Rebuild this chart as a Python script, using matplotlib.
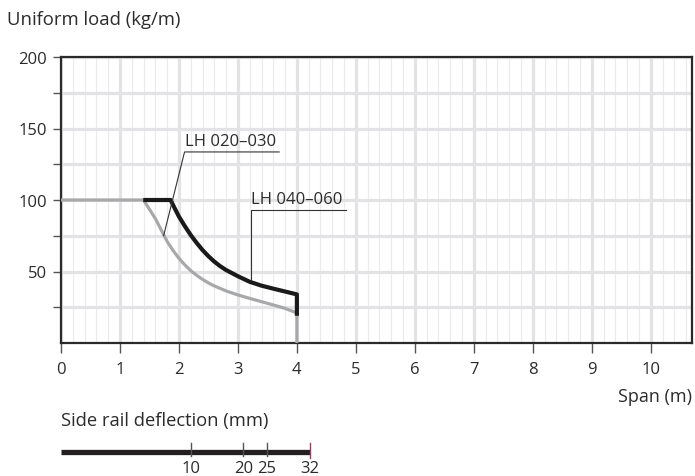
import matplotlib
matplotlib.use("Agg")
import matplotlib.pyplot as plt
from matplotlib.ticker import FixedLocator, MultipleLocator

plt.rcParams['font.family'] = ['Open Sans', 'DejaVu Sans']

# LH 020-030 (grey curve)
span_grey = [0, 1.40, 1.50, 1.60, 1.70, 1.80, 1.90, 2.00, 2.10, 2.20, 2.30, 2.40, 2.50, 2.60,
             2.80, 3.00, 3.20, 3.40, 3.60, 3.80, 4.00, 4.00]
load_grey = [100, 100, 93.5, 87, 79, 71, 64.7, 59.2, 54.6, 50.6, 47.3, 44.5, 42, 39.9,
             36.4, 33.6, 31.2, 28.9, 26.6, 24.2, 21, 0]

# LH 040-060 (black curve)
span_black = [1.43, 1.86, 1.90, 2.00, 2.10, 2.20, 2.30, 2.40, 2.50, 2.60, 2.70, 2.80,
              3.00, 3.20, 3.40, 3.60, 3.80, 4.00, 4.00]
load_black = [100, 100, 96.5, 88.4, 81.7, 75.5, 70, 65, 60.7, 56.9, 53.7, 51,
              46.7, 42.8, 40.1, 38, 36, 34, 20.5]

x_ticks = [0, 1, 2, 3, 4, 5, 6, 7, 8, 9, 10]
y_ticks = [25, 50, 75, 100, 125, 150, 175, 200]
y_labels = [50, 100, 150, 200]

# side rail deflection scale (mm) and where it sits on the span axis
defl_mm = [10, 20, 25, 32]
defl_span = [2.20, 3.09, 3.49, 4.22]

txt = '#2b2b2b'
fig = plt.figure(figsize=(6.95, 4.77), dpi=100)
ax = fig.add_axes([61 / 695, 1 - 344 / 477, 631 / 695, 286 / 477])

ax.set_xlim(0, 10.7)
ax.set_ylim(0, 200)

# grid
ax.xaxis.set_major_locator(FixedLocator(x_ticks))
ax.xaxis.set_minor_locator(MultipleLocator(0.2))
ax.yaxis.set_major_locator(FixedLocator(y_ticks))
ax.set_yticklabels([str(v) if v in y_labels else '' for v in y_ticks])
ax.grid(which='major', axis='x', color='#e3e3e5', lw=2.3, zorder=0)
ax.grid(which='minor', axis='x', color='#ebebeb', lw=0.8, zorder=0)
ax.grid(which='major', axis='y', color='#e3e3e5', lw=2.3, zorder=0)
ax.set_axisbelow(True)

ax.tick_params(axis='x', which='major', length=7, width=1, color='#555555', pad=6,
               labelsize=12, labelcolor=txt)
ax.tick_params(axis='x', which='minor', length=0)
ax.tick_params(axis='y', length=6, width=1, color='#555555', pad=4, labelsize=12, labelcolor=txt)
for s in ax.spines.values():
    s.set_linewidth(1.6)
    s.set_color('#2a2a2a')

ax.plot(span_grey, load_grey, color='#a7a8aa', lw=2.3, solid_joinstyle='round', zorder=3)
ax.plot(span_black, load_black, color='#1a1a1a', lw=3.0, solid_joinstyle='round', zorder=4)

# labels with underline and leader
ax.plot([1.74, 2.095, 3.70], [75, 133.6, 133.6], color='#333333', lw=0.8, zorder=5)
ax.text(2.095, 135.5, 'LH 020–030', fontsize=12, color=txt, ha='left', va='bottom')
ax.plot([3.23, 3.23, 4.84], [44, 93, 93], color='#333333', lw=0.8, zorder=5)
ax.text(3.23, 95, 'LH 040–060', fontsize=12, color=txt, ha='left', va='bottom')

fig.text(7 / 695, 1 - 20 / 477, 'Uniform load (kg/m)', fontsize=13.3, color=txt, ha='left', va='center')
fig.text(692 / 695, 1 - 397 / 477, 'Span (m)', fontsize=13, color=txt, ha='right', va='center')
fig.text(61 / 695, 1 - 421 / 477, 'Side rail deflection (mm)', fontsize=13.2, color=txt,
         ha='left', va='center')

# deflection bar
dax = fig.add_axes([61 / 695, 0, 631 / 695, 40 / 477])
dax.set_xlim(0, 10.7)
dax.set_ylim(0, 40)
dax.axis('off')
dax.plot([0, defl_span[-1]], [24.3, 24.3], color='#231f20', lw=3.8, solid_capstyle='butt')
for mm, pos in zip(defl_mm, defl_span):
    last = mm == defl_mm[-1]
    dax.plot([pos, pos], [18 if last else 20.5, 33.3], color='#a3386a' if last else '#555555', lw=1.0)
    dax.text(pos, 8, str(mm), fontsize=12, color=txt, ha='center', va='center')

fig.savefig('out.png', dpi=100)
